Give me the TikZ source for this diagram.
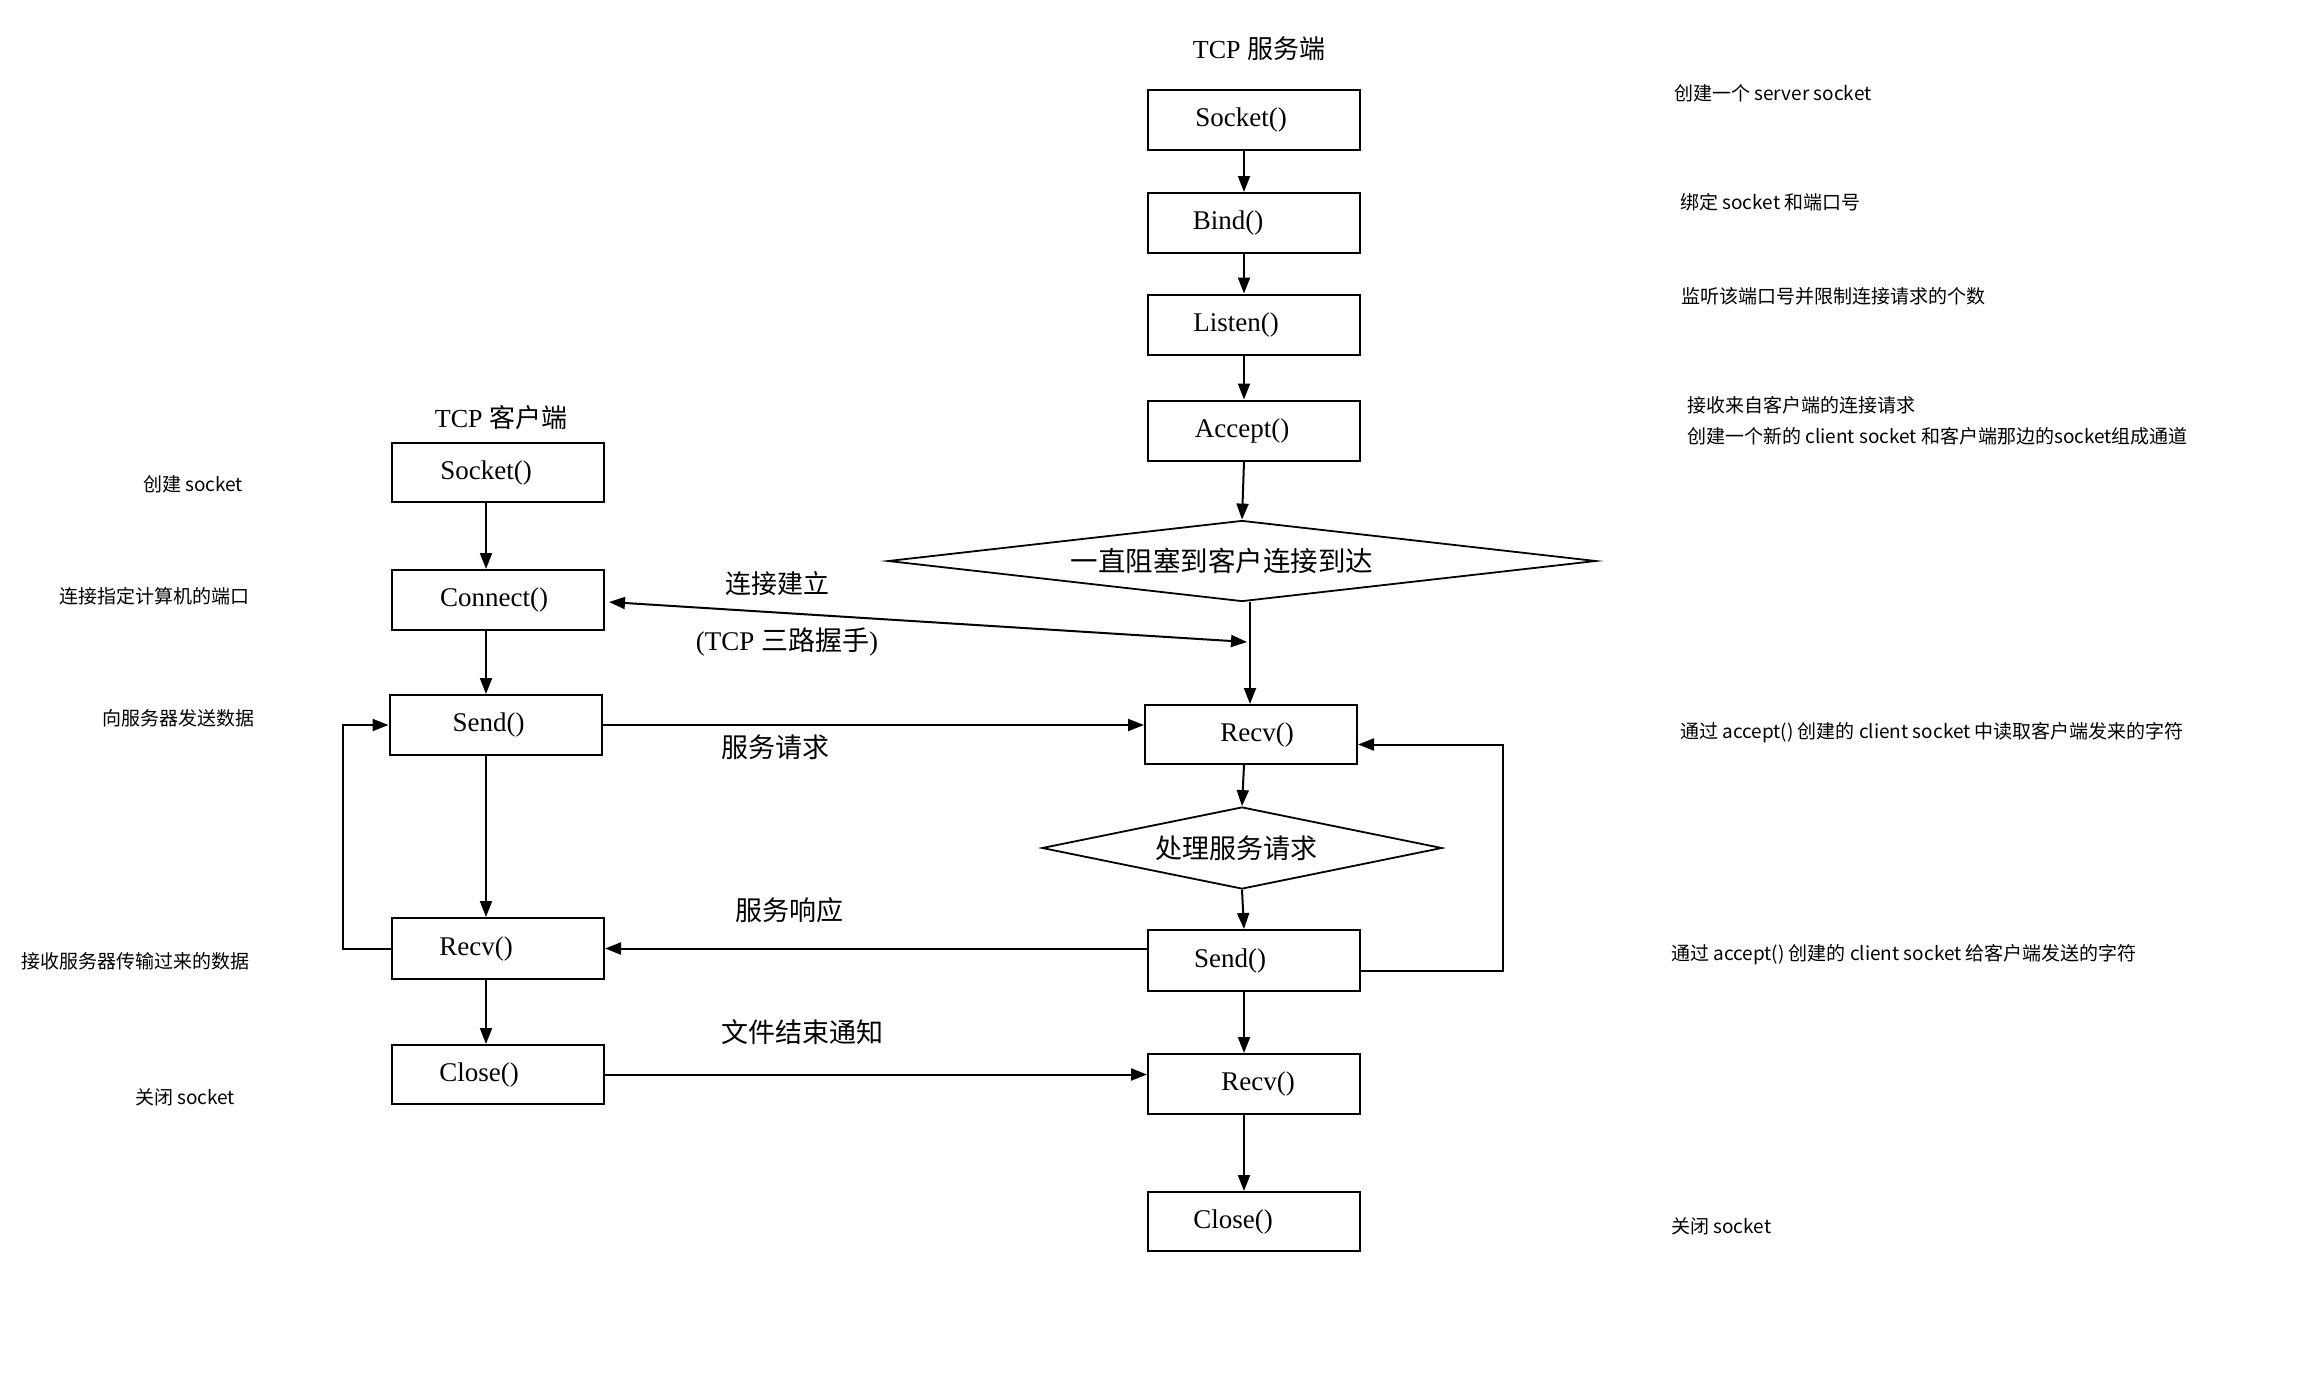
\documentclass[tikz,border=0pt]{standalone}
\usepackage{fontspec}
\setmainfont{Liberation Serif}
\newfontfamily\cjk{Noto Sans CJK SC}
\usetikzlibrary{arrows.meta,shapes.geometric}
\newcommand\shiftedtext[2]{\hspace*{#1}#2\hspace*{-#1}}
\begin{document}
\begin{tikzpicture}[x=1pt,y=-1pt,
  box/.style={draw,line width=2pt,minimum width=212pt,minimum height=60pt,inner sep=0pt,font=\fontsize{27}{30}\selectfont},
  dia/.style={draw,diamond,line width=1.8pt,inner sep=0pt},
  arr/.style={line width=2pt,-{Triangle[length=16pt,width=12pt]}},
  arrb/.style={line width=2pt,{Triangle[length=16pt,width=12pt]}-{Triangle[length=16pt,width=12pt]}},
  note/.style={font=\cjk\fontsize{19}{22}\selectfont,anchor=west,inner sep=0pt},
  lab/.style={font=\cjk\fontsize{27}{30}\selectfont,inner sep=0pt},
  ttl/.style={font=\fontsize{26}{30}\selectfont,inner sep=0pt}]
\fill[white] (0,0) rectangle (2308,1382);
\useasboundingbox (0,0) rectangle (2308,1382);

% x positions of vertical connectors
\coordinate (sx) at (1244,0);
\coordinate (rx) at (1250,0);
\coordinate (cx) at (486,0);

% titles
\node[ttl] (tserv) at (1259,49) {TCP {\cjk 服务端}};
\node[ttl] (tcli) at (501,418) {TCP {\cjk 客户端}};

% server column
\node[box] (ssock) at (1254,120) {\shiftedtext{-13pt}{Socket()}};
\node[box] (sbind) at (1254,223) {\shiftedtext{-26pt}{Bind()}};
\node[box] (slisten) at (1254,324.5) {\shiftedtext{-18pt}{Listen()}};
\node[box] (saccept) at (1254,430.5) {\shiftedtext{-12pt}{Accept()}};
\node[dia,minimum width=708pt,minimum height=81pt,aspect=8.7,font=\cjk\fontsize{27.5}{32}\selectfont] (d1) at (1242,561) {\shiftedtext{-20pt}{一直阻塞到客户连接到达}};
\node[box,minimum height=59pt] (srecv1) at (1251,734.5) {\shiftedtext{6pt}{Recv()}};
\node[dia,minimum width=400pt,minimum height=82pt,aspect=4.9,font=\cjk\fontsize{27}{30}\selectfont] (d2) at (1242,848) {\shiftedtext{-6pt}{处理服务请求}};
\node[box,minimum height=61pt] (ssend) at (1254,960.5) {\shiftedtext{-24pt}{Send()}};
\node[box] (srecv2) at (1254,1084) {\shiftedtext{4pt}{Recv()}};
\node[box,minimum height=59pt] (sclose) at (1254,1221.5) {\shiftedtext{-21pt}{Close()}};

% client column
\node[box,minimum height=59pt] (csock) at (498,472.5) {\shiftedtext{-12pt}{Socket()}};
\node[box] (cconn) at (498,600) {\shiftedtext{-4pt}{Connect()}};
\node[box] (csend) at (495.5,725) {\shiftedtext{-7pt}{Send()}};
\node[box,minimum height=61pt] (crecv) at (498,948.5) {\shiftedtext{-22pt}{Recv()}};
\node[box,minimum height=59pt] (cclose) at (498,1074.5) {\shiftedtext{-19pt}{Close()}};

\coordinate (hs) at (1247,642);

% server connectors
\draw[arr] (ssock.south -| sx) -- (sbind.north -| sx);
\draw[arr] (sbind.south -| sx) -- (slisten.north -| sx);
\draw[arr] (slisten.south -| sx) -- (saccept.north -| sx);
\draw[arr] (saccept.south -| sx) -- (d1.north);
\draw[arr] (d1.south -| rx) -- (srecv1.north -| rx);
\draw[arr] (srecv1.south -| sx) -- (d2.north);
\draw[arr] (d2.south) -- (ssend.north -| sx);
\draw[arr] (ssend.south -| sx) -- (srecv2.north -| sx);
\draw[arr] (srecv2.south -| sx) -- (sclose.north -| sx);
\draw[arr] ([yshift=-10pt]ssend.east) -- ++(142,0) |- ([yshift=-10pt]srecv1.east);

% client connectors
\draw[arr] (csock.south -| cx) -- (cconn.north -| cx);
\draw[arr] (cconn.south -| cx) -- (csend.north -| cx);
\draw[arr] (csend.south -| cx) -- (crecv.north -| cx);
\draw[arr] (crecv.south -| cx) -- (cclose.north -| cx);
\draw[arr] (crecv.west) -- ++(-48,0) |- (csend.west);

% between client and server
\draw[arrb] ([xshift=4pt,yshift=-2pt]cconn.east) -- (hs);
\draw[arr] (csend.east) -- (csend.east -| srecv1.west);
\draw[arr] (ssend.west |- crecv.east) -- (crecv.east);
\draw[arr] (cclose.east) -- (cclose.east -| srecv2.west);

% connector labels
\node[lab,font=\cjk\fontsize{26}{30}\selectfont] (l1) at (777,584) {连接建立};
\node[ttl,font=\fontsize{27}{30}\selectfont] (l2) at (787,642) {(TCP {\cjk 三路握手})};
\node[lab] (l3) at (775,747) {服务请求};
\node[lab] (l4) at (789,910) {服务响应};
\node[lab] (l5) at (802,1032) {文件结束通知};

% left notes
\node[note] (n1) at (143,484) {创建 socket};
\node[note] (n2) at (59,596) {连接指定计算机的端口};
\node[note] (n3) at (102,718) {向服务器发送数据};
\node[note] (n4) at (21,961) {接收服务器传输过来的数据};
\node[note] (n5) at (135,1097) {关闭 socket};

% right notes
\node[note] (r1) at (1674,93) {创建一个 server socket};
\node[note] (r2) at (1680,202) {绑定 socket 和端口号};
\node[note] (r3) at (1681,296) {监听该端口号并限制连接请求的个数};
\node[note] (r4) at (1687,405) {接收来自客户端的连接请求};
\node[note] (r5) at (1687,436) {创建一个新的 client socket 和客户端那边的socket组成通道};
\node[note] (r6) at (1680,733) {通过 accept() 创建的 client socket 中读取客户端发来的字符};
\node[note] (r7) at (1671,955) {通过 accept() 创建的 client socket 给客户端发送的字符};
\node[note] (r8) at (1671,1226) {关闭 socket};
\end{tikzpicture}
\end{document}
